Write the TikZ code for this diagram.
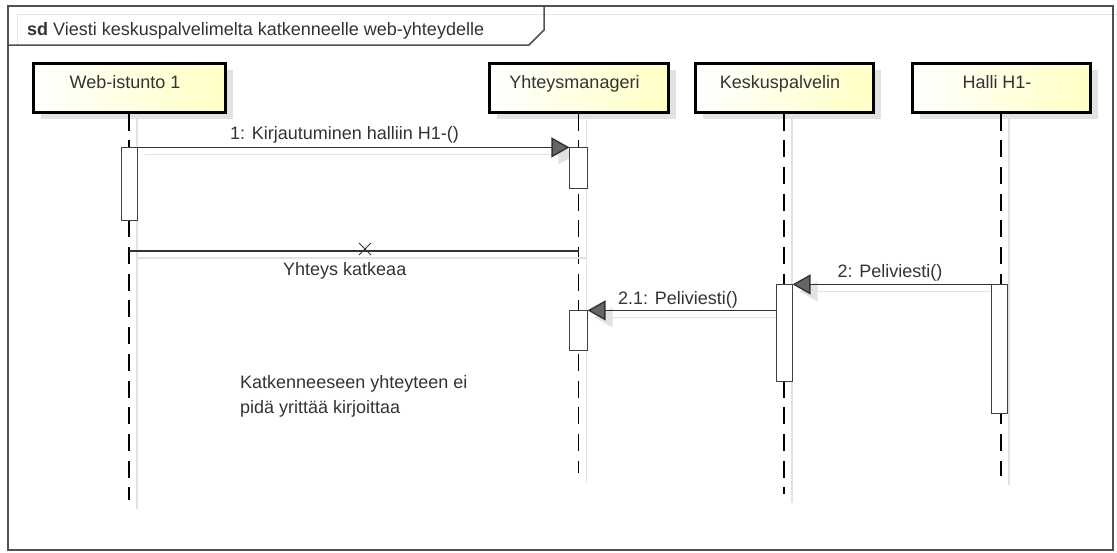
\documentclass[tikz,border=0pt]{standalone}
\usepackage{fontspec}
\setmainfont{Liberation Sans}
\usetikzlibrary{arrows.meta,shadows}

\definecolor{ink}{HTML}{333333}
\definecolor{framegray}{HTML}{505050}
\definecolor{headyellow}{HTML}{FFFFC4}
\definecolor{shadowgray}{HTML}{E2E2E2}

\tikzset{
  lbl/.style={font=\fontsize{18}{25}\selectfont, text=ink, inner sep=0pt},
  head/.style={lbl, draw=black, line width=3pt, left color=white, right color=headyellow,
    minimum height=49pt, text height=13pt, text depth=12pt,
    general shadow={fill=shadowgray, shadow xshift=8pt, shadow yshift=-7pt}},
  lifeline/.style={draw=black, line width=1.4pt, dash pattern=on 17pt off 9.7pt},
  lifeshadow/.style={draw=shadowgray, line width=1.2pt},
  actbar/.style={draw=black!75, line width=1.2pt, fill=white, inner sep=0pt, minimum width=15pt},
  msg/.style={draw=ink, line width=1.4pt, -{Triangle[length=18pt,width=20pt,fill=black!60]}},
  msgshadow/.style={draw=shadowgray, line width=1.2pt, -{Triangle[length=18pt,width=20pt,fill=shadowgray]}},
  lostline/.style={draw=ink, line width=1.4pt},
  lostshadow/.style={draw=shadowgray, line width=1.2pt},
  frameline/.style={draw=framegray, line width=1.5pt},
  faint/.style={draw=black!10, line width=1pt},
}

\begin{document}
\begin{tikzpicture}[x=1pt,y=-1pt]
\useasboundingbox (0,0) rectangle (1117,552);

% diagram frame with its name tab
\draw[faint] (17,45) -- (17,14) -- (1117,14);
\draw[frameline] (8,6) rectangle (1113,550);
\draw[frameline] (8,45) -- (529,45) -- (544,30) -- (544,6);
\node[lbl, anchor=base west] (title) at (27,35)
  {\textbf{sd} Viesti keskuspalvelimelta katkenneelle web-yhteydelle};

% lifeline heads
\node[head, minimum width=192pt] (h1) at (129,87.5)   {Web-istunto 1\hspace*{8pt}};
\node[head, minimum width=179pt] (h2) at (578.5,87.5) {Yhteysmanageri\hspace*{8pt}};
\node[head, minimum width=178pt] (h3) at (784,87.5)   {Keskuspalvelin\hspace*{8pt}};
\node[head, minimum width=178pt] (h4) at (1001,87.5)  {Halli H1-\hspace*{8pt}};

% lifelines
\coordinate (e1) at (129,500);
\coordinate (e2) at (578.5,473);
\coordinate (e3) at (784,494);
\coordinate (e4) at (1001,476);
\foreach \h/\e in {h1/e1,h2/e2,h3/e3,h4/e4} {
  \draw[lifeshadow] ([xshift=8pt]\h.south) -- ([shift={(8,9)}]\e);
  \draw[lifeline] (\h.south) -- (\e);
}

% activation bars
\node[actbar, minimum height=72pt] (a1) at (129.5,184) {};
\node[actbar, minimum width=17pt, minimum height=40pt] (a2) at (578.5,168) {};
\node[actbar, minimum height=96pt] (a3) at (784.5,333) {};
\node[actbar, minimum height=128pt] (a4) at (999.5,349) {};
\node[actbar, minimum width=17pt, minimum height=39pt] (a5) at (578.5,330.5) {};

% the connection that breaks
\coordinate (l1) at (129,251);
\coordinate (l2) at (578.5,251);
\coordinate (cut) at (365,249);

% message shadows
\draw[msgshadow] ([shift={(7,7)}]a1.north east) -- ([shift={(7,7)}]a2.north west);
\draw[msgshadow] ([shift={(7,7)}]a4.north west) -- ([shift={(7,7)}]a3.north east);
\draw[msgshadow] ([shift={(7,7)}]a3.west |- a5.north) -- ([shift={(7,7)}]a5.north east);
\draw[lostshadow] ([shift={(8,7)}]l1) -- ([shift={(7,7)}]l2);

% redraw bars above the shadows
\foreach \b in {a1,a2,a3,a4,a5} {
  \draw[draw=black!75, line width=1.2pt, fill=white] (\b.south west) rectangle (\b.north east);
}

% messages
\draw[msg] (a1.north east) --
  node[lbl, anchor=base, yshift=8pt, xshift=-9pt] {1: Kirjautuminen halliin H1-()} (a2.north west);
\draw[msg] (a4.north west) --
  node[lbl, anchor=base, yshift=7pt, xshift=-2pt] {2: Peliviesti()} (a3.north east);
\draw[msg] (a3.west |- a5.north) --
  node[lbl, anchor=base, yshift=6pt, xshift=-4pt] {2.1: Peliviesti()} (a5.north east);

\draw[lostline] (l1) --
  node[lbl, anchor=base, yshift=-24pt, xshift=-9pt] {Yhteys katkeaa} (l2);
\draw[ink, line width=1pt] ([shift={(-6,-6)}]cut) -- ([shift={(6,6)}]cut)
                           ([shift={(-6,6)}]cut) -- ([shift={(6,-6)}]cut);

% note
\node[lbl, align=left, anchor=north west] (note) at (240,375)
  {Katkenneeseen yhteyteen ei\\pidä yrittää kirjoittaa};
\end{tikzpicture}
\end{document}
